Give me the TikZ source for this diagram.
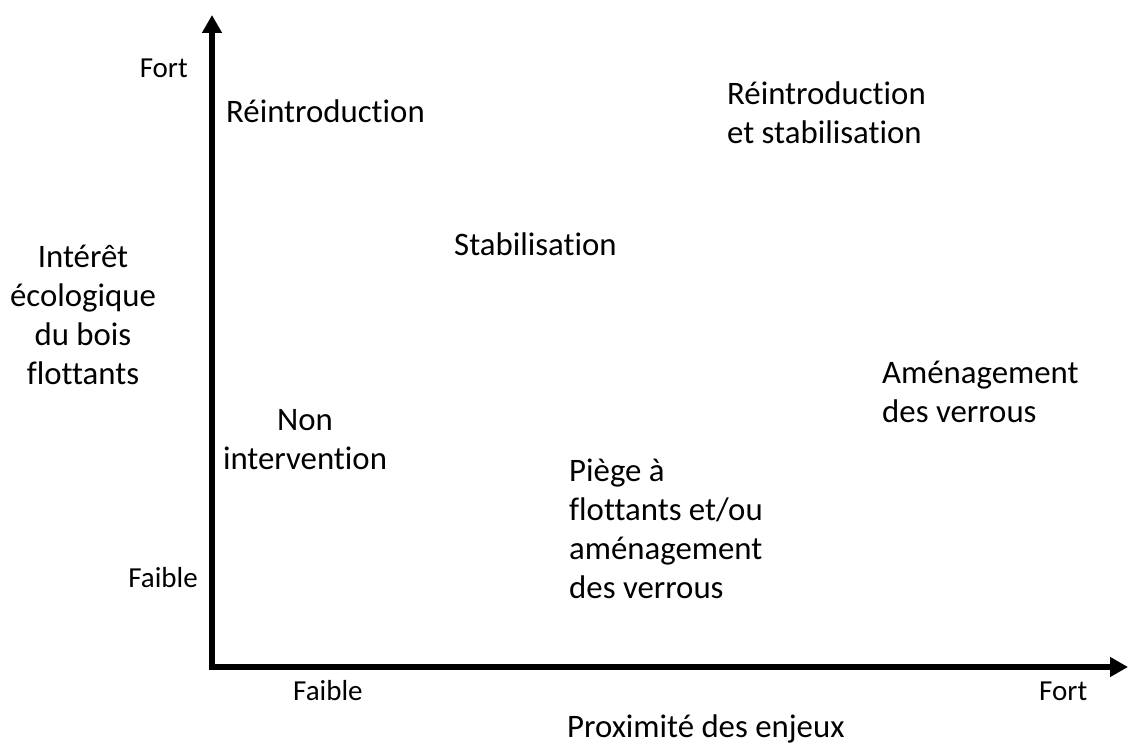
\documentclass[tikz,border=0pt]{standalone}
\usepackage{fontspec}
\setmainfont{Carlito}[Ligatures={NoCommon}]
\usetikzlibrary{arrows.meta}
\tikzstyle{zone}=[inner sep=0pt, align=left, font=\fontsize{32.8}{39}\selectfont]
\tikzstyle{titre}=[inner sep=0pt, align=center, font=\fontsize{32.8}{39}\selectfont]
\tikzstyle{graduation}=[inner sep=0pt, font=\fontsize{29}{34}\selectfont]
\tikzstyle{axe}=[line width=6pt, {Triangle[width=19pt,length=18pt]}-{Triangle[width=19pt,length=18pt]}]

\begin{document}
\begin{tikzpicture}[x=1pt, y=-1pt]
    \useasboundingbox (0,0) rectangle (1129,743);
    % axes
    \coordinate (O)      at (212, 667);
    \coordinate (haut)   at (212, 15);
    \coordinate (droite) at (1128, 667);
    \draw[axe] (haut) -- (O) -- (droite);
    % graduations
    \node[graduation, anchor=base east] (yfort)   at (188, 78)  {Fort};
    \node[graduation, anchor=base east] (yfaible) at (198, 587) {Faible};
    \node[graduation, anchor=base west] (xfaible) at (293, 700) {Faible};
    \node[graduation, anchor=base west] (xfort)   at (1039, 700) {Fort};
    % titres des axes (base = derniere ligne)
    \node[titre, anchor=base] (ytitre) at (83, 384) {Intérêt\\écologique\\du bois\\flottants};
    \node[titre, anchor=base west] (xtitre) at (567, 737) {Proximité des enjeux};
    % zones
    \node[zone, anchor=base west] (reintro)  at (226, 123) {Réintroduction};
    \node[zone, anchor=base west] (reistab)  at (727, 144) {Réintroduction\\et stabilisation};
    \node[zone, anchor=base west] (stab)     at (454, 255) {Stabilisation};
    \node[zone, anchor=base west] (verrous)  at (882, 422) {Aménagement\\des verrous};
    \node[titre, anchor=base] (nonint)       at (305, 469) {Non\\intervention};
    \node[zone, anchor=base west] (piege)    at (569, 598) {Piège à\\flottants et/ou\\aménagement\\des verrous};
\end{tikzpicture}
\end{document}
